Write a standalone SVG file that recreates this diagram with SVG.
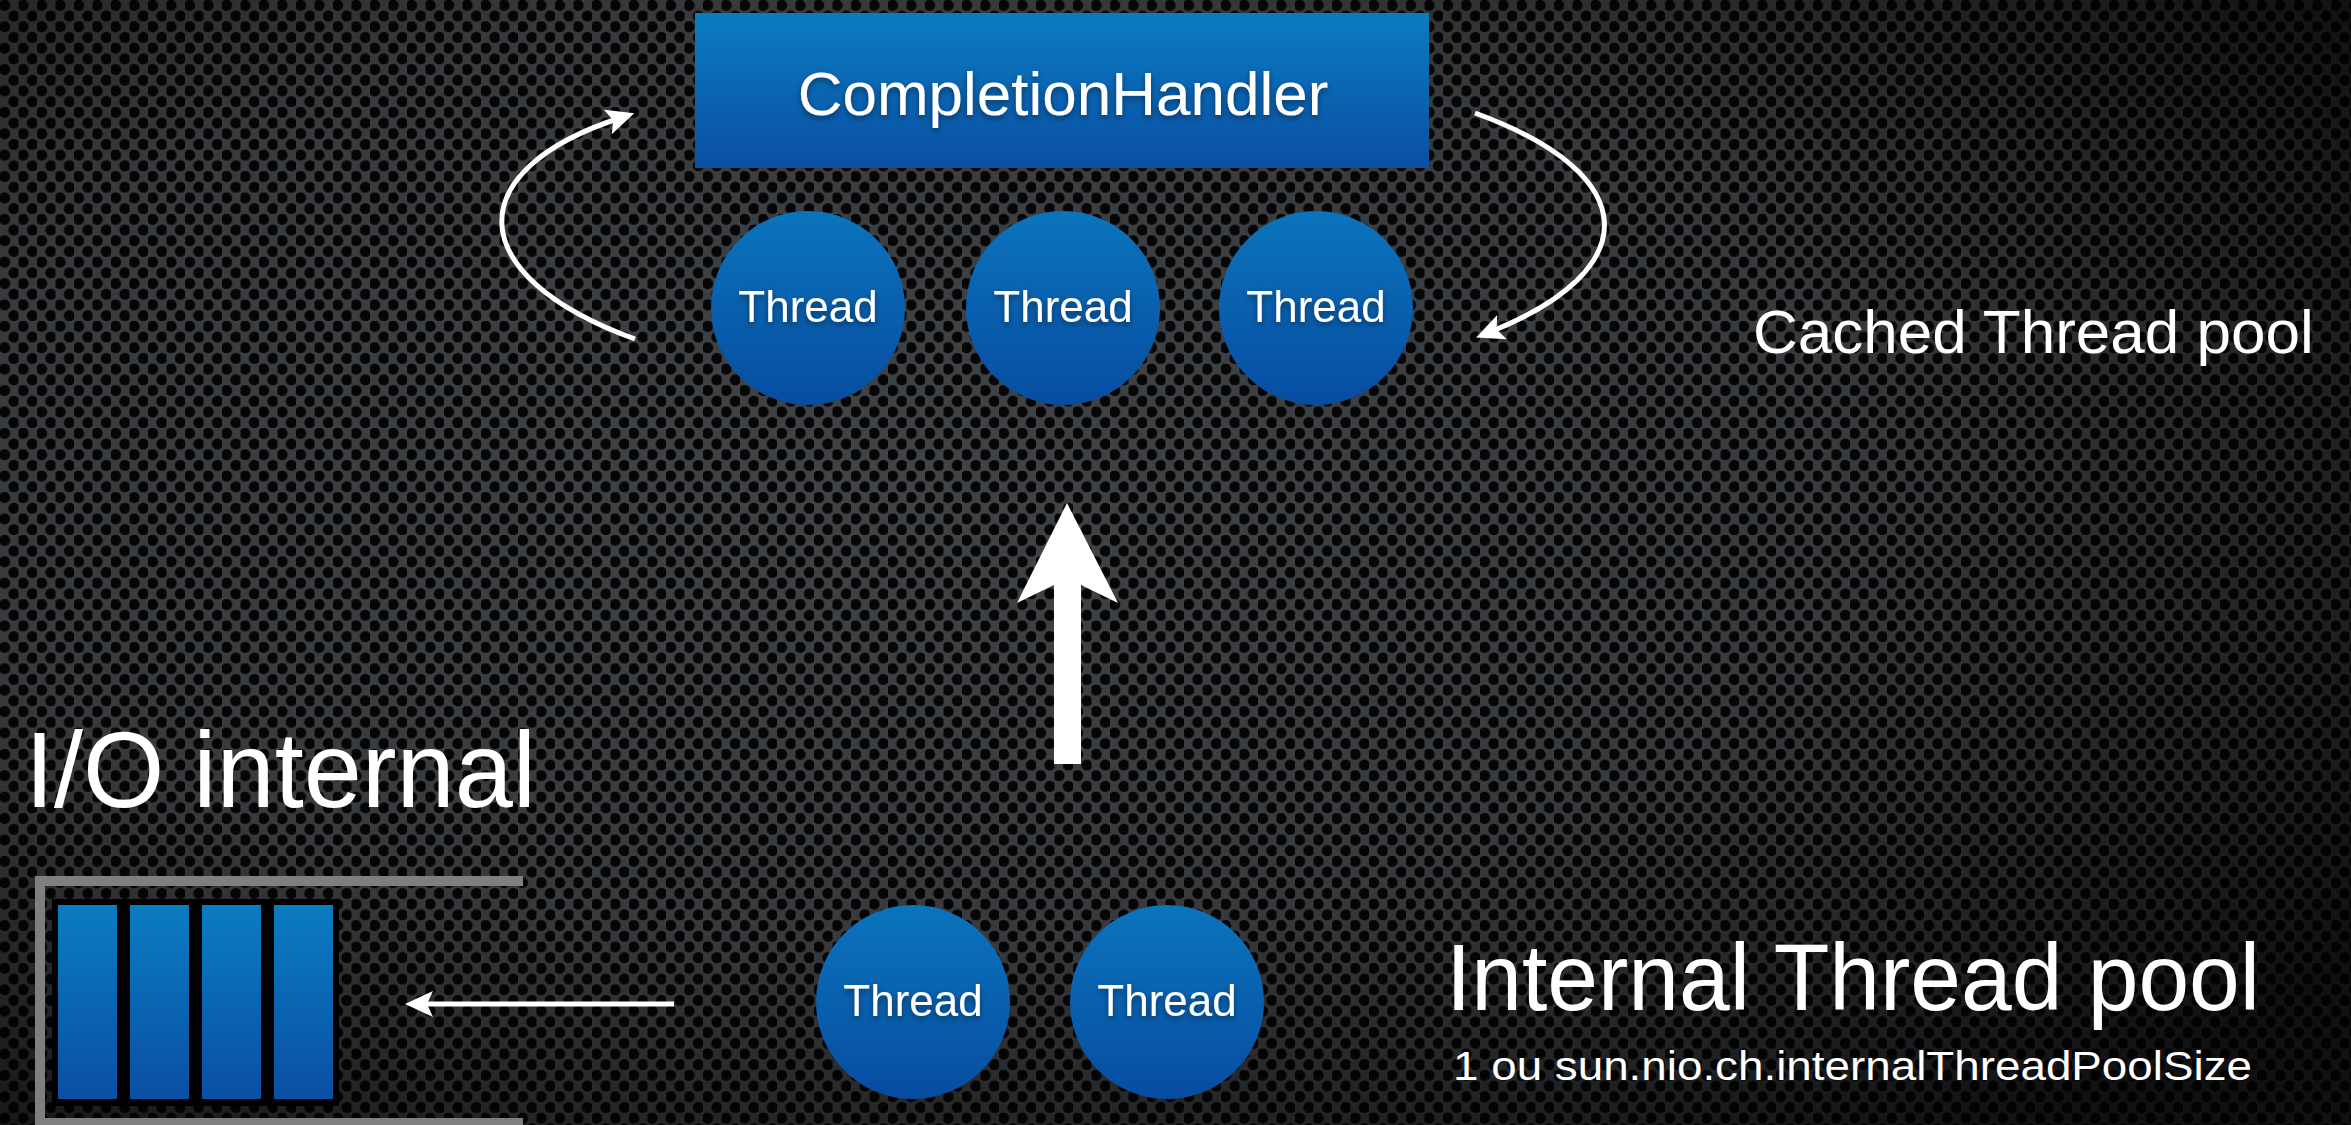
<svg xmlns="http://www.w3.org/2000/svg" width="2351" height="1125" viewBox="0 0 2351 1125">
  <defs>
    <pattern id="holes" x="0" y="0" width="18.5" height="21.4" patternUnits="userSpaceOnUse">
      <rect width="18.5" height="21.4" fill="#414447"/>
      <circle cx="4.6" cy="5.3" r="5.6" fill="#060607"/>
      <circle cx="13.85" cy="16" r="5.6" fill="#060607"/>
    </pattern>
    <radialGradient id="vignette" cx="0.38" cy="0.42" r="0.75">
      <stop offset="0" stop-color="#000" stop-opacity="0"/>
      <stop offset="0.55" stop-color="#000" stop-opacity="0.15"/>
      <stop offset="1" stop-color="#000" stop-opacity="0.75"/>
    </radialGradient>
    <linearGradient id="blueRect" x1="0" y1="0" x2="0" y2="1">
      <stop offset="0" stop-color="#0a7cc2"/>
      <stop offset="1" stop-color="#0a4fa4"/>
    </linearGradient>
    <linearGradient id="blueCircle" x1="0" y1="0" x2="0" y2="1">
      <stop offset="0" stop-color="#0b74bd"/>
      <stop offset="1" stop-color="#074ca0"/>
    </linearGradient>
    <filter id="tshadow" x="-10%" y="-30%" width="120%" height="160%">
      <feDropShadow dx="0" dy="3" stdDeviation="3" flood-color="#000" flood-opacity="0.45"/>
    </filter>
    <marker id="head" viewBox="0 0 28 26" markerWidth="28" markerHeight="26" refX="13" refY="13" orient="auto" markerUnits="userSpaceOnUse">
      <path d="M0,0 L28,13 L0,26 L6,13 Z" fill="#ffffff"/>
    </marker>
    <style>
      .lbl { font-family: "Liberation Sans", Arial, sans-serif; fill: #ffffff; }
      .node-text { font-family: "Liberation Sans", Arial, sans-serif; fill: #ffffff; text-anchor: middle; filter: url(#tshadow); }
      .thread { fill: url(#blueCircle); }
      .conn { fill: none; stroke: #ffffff; stroke-width: 5; marker-end: url(#head); }
      .bar { fill: url(#blueRect); }
    </style>
  </defs>

  <!-- background -->
  <rect x="0" y="0" width="2351" height="1125" fill="url(#holes)"/>
  <rect x="0" y="0" width="2351" height="1125" fill="url(#vignette)"/>

  <!-- nodes -->
  <g id="completion-handler">
    <rect x="695" y="13" width="734" height="155" fill="url(#blueRect)"/>
    <text class="node-text" x="1063" y="115" font-size="62">CompletionHandler</text>
  </g>
  <g id="cached-thread-1">
    <circle class="thread" cx="808" cy="308" r="97"/>
    <text class="node-text" x="808" y="322" font-size="44">Thread</text>
  </g>
  <g id="cached-thread-2">
    <circle class="thread" cx="1063" cy="308" r="97"/>
    <text class="node-text" x="1063" y="322" font-size="44">Thread</text>
  </g>
  <g id="cached-thread-3">
    <circle class="thread" cx="1316" cy="308" r="97"/>
    <text class="node-text" x="1316" y="322" font-size="44">Thread</text>
  </g>
  <g id="internal-thread-1">
    <circle class="thread" cx="913" cy="1002" r="97"/>
    <text class="node-text" x="913" y="1016" font-size="44">Thread</text>
  </g>
  <g id="internal-thread-2">
    <circle class="thread" cx="1167" cy="1002" r="97"/>
    <text class="node-text" x="1167" y="1016" font-size="44">Thread</text>
  </g>
  <g id="io-queue">
    <path d="M523,881 H40 V1123 H523" fill="none" stroke="#7f7f7f" stroke-width="10"/>
    <rect x="52" y="899" width="287" height="207" fill="#000000"/>
    <rect class="bar" x="58" y="905" width="59" height="194"/>
    <rect class="bar" x="130" y="905" width="59" height="194"/>
    <rect class="bar" x="202" y="905" width="59" height="194"/>
    <rect class="bar" x="274" y="905" width="59" height="194"/>
  </g>

  <!-- labels -->
  <g id="labels">
    <text class="lbl" x="1753" y="353" font-size="62">Cached Thread pool</text>
    <text class="lbl" x="25" y="807" font-size="108" textLength="511" lengthAdjust="spacingAndGlyphs">I/O internal</text>
    <text class="lbl" x="1446" y="1010" font-size="94" textLength="814" lengthAdjust="spacingAndGlyphs">Internal Thread pool</text>
    <text class="lbl" x="1453" y="1080" font-size="41" textLength="799" lengthAdjust="spacingAndGlyphs">1 ou sun.nio.ch.internalThreadPoolSize</text>
  </g>

  <!-- connectors -->
  <g id="connectors">
    <path class="conn" d="M635,339 C460,275 460,170 620,118"/>
    <path class="conn" d="M1475,113 C1645,175 1645,270 1490,332"/>
    <path class="conn" d="M674,1004 H420"/>
    <polygon points="1067,503 1118,603 1081,585 1081,764 1054,764 1054,585 1017,603" fill="#ffffff"/>
  </g>
</svg>
